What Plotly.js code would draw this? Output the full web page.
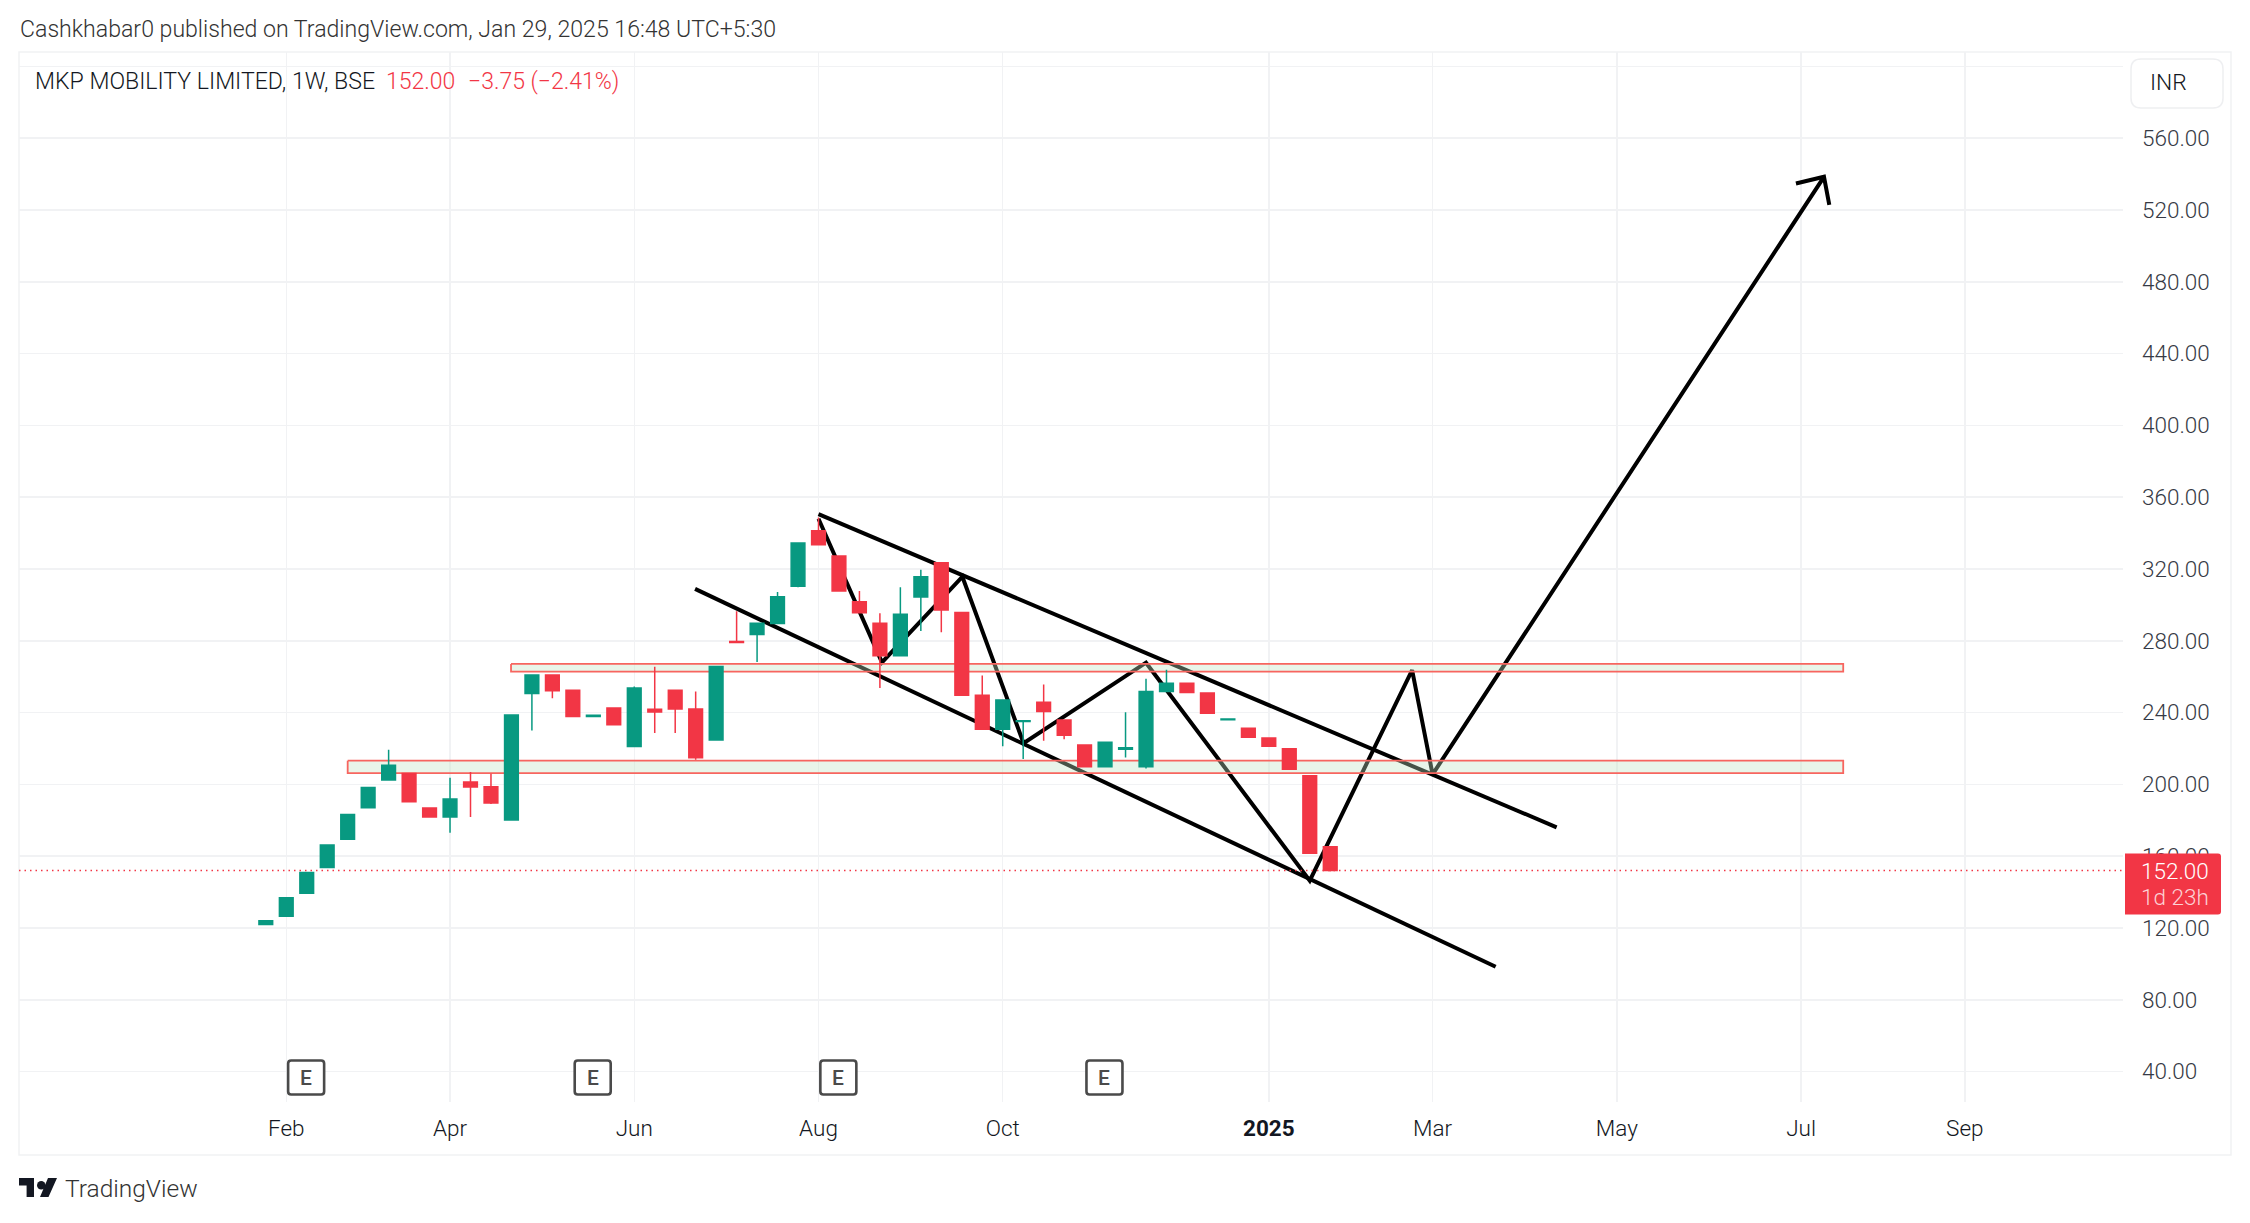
<!DOCTYPE html>
<html><head><meta charset="utf-8">
<script src="https://cdn.plot.ly/plotly-3.0.1.min.js"></script>
<style>html,body{margin:0;padding:0;background:#fff}#c{width:2250px;height:1223px}</style>
</head><body><div id="c"></div>
<script>
// Weekly candles (candle number = position on the time axis)
const opens  = [122,126.5,139.3,153.7,169.4,187,202.4,206.1,186.9,181.9,201.4,198.7,180.2,250.6,260.9,252.4,237.8,242.6,221.1,241.9,252.4,242,224.7,279.6,283.5,289.6,310.4,341.3,327.2,301.7,289.8,271.7,304.4,323.5,295.7,249.6,230.7,235,245.7,235.9,221.9,209.8,219.6,209.8,251.7,256.4,250.9,236,231.3,225.8,219.8,204.8,165.2];
const highs  = [124.1,136.9,150.9,166.3,183.3,198.3,219.3,206.1,186.9,203.7,206.9,205.9,238.7,260.9,260.9,252.4,238.5,242.6,254.6,265.6,252.4,251.7,265.7,296.5,289.8,307.2,334.5,348.7,327.2,307.8,295.4,309.8,319.6,323.5,295.7,260.6,247,235.6,255.7,235.9,221.9,223.5,240.2,258.9,263.9,256.4,250.9,236.5,231.3,225.8,219.8,204.8,165.2];
const lows   = [122,126.5,139.3,153.7,169.4,187,202.4,190.4,181.9,173,181.9,189.1,180.2,230,248,237.8,237.8,233.2,221.1,228.7,228.7,213.7,224.7,279,268.2,289.6,309.8,333.5,307.8,295.6,253.7,271.7,285.4,284.8,249.6,230.7,221.3,214.1,224.3,225.2,209.8,209.8,215,208.9,251.7,251.2,239.6,236,226.3,221.3,208.5,161.7,151.5];
const closes = [124.1,136.9,150.9,166.3,183.3,198.3,210.7,190.4,181.9,191.9,198.5,189.6,238.7,260.9,252.2,237.8,238.5,233.2,253.7,240.4,242,214.8,265.7,279,289.8,304.6,334.5,333.5,307.8,295.6,271.7,294.8,315.7,297.2,249.6,230.7,247,235.5,240.6,227.4,209.8,223.5,220.4,251.7,256.3,251.2,239.6,236.5,226.3,221.3,208.5,161.7,152];
const candleIdx = closes.map((_, i) => i);

// Time axis
const tickIdx    = [1,9,18,27,36,49,57,66,75,83];
const tickLabels = ['Feb','Apr','Jun','Aug','Oct','<b>2025</b>','Mar','May','Jul','Sep'];
const earningsIdx = [2,16,28,41];

// Price axis
const priceTicks  = [40,80,120,160,200,240,280,320,360,400,440,480,520,560,600];
const priceLabels = ['40.00','80.00','120.00','160.00','200.00','240.00','280.00','320.00','360.00','400.00','440.00','480.00','520.00','560.00',''];
const lastClose = 152;

// Hand-drawn lines (candle number, price)
const upperChannelX = [27,63.06],   upperChannelY = [350.6,176.1];
const lowerChannelX = [20.97,60.08], lowerChannelY = [308.9,98.4];
const zigzagX = [27,30.1,34.03,37.02,43,51,56,57,76.12];
const zigzagY = [348,268,315.7,222.9,267.8,146.4,263.7,205.6,538.5];
const arrowHeadX = [74.75,76.12,76.38];
const arrowHeadY = [534.8,538.5,522.9];

// Support / resistance zones
const zoneLeft = [11.98,4.0], zoneRight = [77.06,77.06];
const zoneTop = [267.1,213.2], zoneBottom = [262.8,206.3];

const RED = '#F23645', GREEN = '#089981', GRID = '#f1f2f4';
const FONT = 'Roboto, sans-serif';
const L = 19, R = 2123, T = 52, B = 1102;
const xp = x => (x - L) / (R - L), yp = y => (B - y) / (B - T);

const blackLine = (x, y) => ({type:'scatter', mode:'lines', x, y, zorder:1, showlegend:false, hoverinfo:'skip',
  line:{color:'#000', width:4}});
const zone = i => ({type:'scatter', mode:'lines', zorder:2, showlegend:false, hoverinfo:'skip',
  x:[zoneLeft[i],zoneRight[i],zoneRight[i],zoneLeft[i],zoneLeft[i]],
  y:[zoneTop[i],zoneTop[i],zoneBottom[i],zoneBottom[i],zoneTop[i]],
  fill:'toself', fillcolor:'rgba(194,226,194,0.36)', line:{color:'#f7655f', width:1.8}});

const data = [
  blackLine(upperChannelX, upperChannelY),
  blackLine(lowerChannelX, lowerChannelY),
  blackLine(zigzagX, zigzagY),
  blackLine(arrowHeadX, arrowHeadY),
  zone(0), zone(1),
  {type:'candlestick', x:candleIdx, open:opens, high:highs, low:lows, close:closes, zorder:3,
   whiskerwidth:0, showlegend:false, hoverinfo:'skip',
   increasing:{line:{color:GREEN,width:1.5}, fillcolor:GREEN},
   decreasing:{line:{color:RED,width:1.5}, fillcolor:RED}}
];

const rrect = (x0,y0,x1,y1,r) => {
  const a = xp(x0), b = xp(x1), c = yp(y0), d = yp(y1);
  const rx = r/(R-L), ry = r/(B-T);
  return `M${a+rx},${c}L${b-rx},${c}Q${b},${c} ${b},${c-ry}L${b},${d+ry}Q${b},${d} ${b-rx},${d}L${a+rx},${d}Q${a},${d} ${a},${d+ry}L${a},${c-ry}Q${a},${c} ${a+rx},${c}Z`;
};

const shapes = [
  // outer frame
  {type:'rect', xref:'paper', yref:'paper', x0:0, x1:xp(2231), y0:yp(1155), y1:1, layer:'below', line:{color:GRID,width:1.5}},
  // last price line
  {type:'line', xref:'paper', yref:'y', x0:0, x1:1, y0:lastClose, y1:lastClose, layer:'above', line:{color:RED,width:1.5,dash:'1.5px,4px'}},
  // price tag
  {type:'path', xref:'paper', yref:'paper', layer:'above', fillcolor:RED, line:{width:0},
   path:`M${xp(2125)},${yp(853.5)}L${xp(2218)},${yp(853.5)}Q${xp(2221)},${yp(853.5)} ${xp(2221)},${yp(856.5)}L${xp(2221)},${yp(911.5)}Q${xp(2221)},${yp(914.5)} ${xp(2218)},${yp(914.5)}L${xp(2125)},${yp(914.5)}Z`},
  // currency box
  {type:'path', xref:'paper', yref:'paper', layer:'above', fillcolor:'#fff', line:{color:'#eeeff1',width:1.5},
   path:rrect(2131,59,2223,108,10)},
];

// earnings markers
earningsIdx.forEach(i => shapes.push({type:'path', xref:'x', yref:'paper', xsizemode:'pixel', ysizemode:'pixel',
  xanchor:i-0.03, yanchor:yp(1077.5), layer:'above', fillcolor:'#fff', line:{color:'#4a4a4a',width:2.6},
  path:'M-15,-17L15,-17Q18,-17 18,-14L18,14Q18,17 15,17L-15,17Q-18,17 -18,14L-18,-14Q-18,-17 -15,-17Z'}));

// TradingView logo
shapes.push({type:'path', xref:'paper', yref:'paper', xsizemode:'pixel', ysizemode:'pixel',
  xanchor:xp(19), yanchor:yp(1178), layer:'above', fillcolor:'#131722', line:{width:0},
  path:'M0,0L15,0L15,-19L7.6,-19L7.6,-7.4L0,-7.4Z M29.5,-19L21,-19L29,0L38,0Z'});
shapes.push({type:'circle', xref:'paper', yref:'paper', xsizemode:'pixel', ysizemode:'pixel',
  xanchor:xp(19), yanchor:yp(1178), layer:'above', fillcolor:'#131722', line:{width:0},
  x0:18, x1:26.5, y0:-3, y1:-11.5});

const note = (x, y, text, color, size, anchor, weight) => ({xref:'paper', yref:'paper', x:xp(x), y:yp(y), text,
  showarrow:false, xanchor:anchor||'left', yanchor:'middle', borderpad:0, align:anchor||'left',
  font:{family:FONT, size:size||22.8, color, weight:weight||300}});

const annotations = [
  note(19, 29, 'Cashkhabar0 published on TradingView.com, Jan 29, 2025 16:48 UTC+5:30', '#333333', 23.1),
  note(34, 81, 'MKP MOBILITY LIMITED, 1W, BSE', '#131722', 23.1),
  note(385, 81, '152.00', RED, 23),
  note(467, 81, '\u22123.75 (\u22122.41%)', RED, 23),
  note(2149, 83, 'INR', '#131722', 22.8),
  note(2210, 871, '152.00', '#ffffff', 22.5, 'right'),
  note(2210, 897, '1d 23h', 'rgba(255,255,255,0.78)', 22.5, 'right'),
  note(64, 1188, 'TradingView', '#333333', 24.5),
];
earningsIdx.forEach(i => annotations.push({xref:'x', yref:'paper', x:i-0.03, y:yp(1077.5), text:'E', showarrow:false,
  xanchor:'center', yanchor:'middle', borderpad:0, font:{family:FONT, size:21, color:'#4a4a4a', weight:500}}));

const layout = {
  width:2250, height:1223, autosize:false,
  paper_bgcolor:'#fff', plot_bgcolor:'#fff',
  margin:{l:L, r:2250-R, t:T, b:1223-B, pad:0},
  showlegend:false, font:{family:FONT},
  boxgap:0.33, boxgroupgap:0,
  xaxis:{type:'linear', range:[(L-265.8)/20.47,(R-265.8)/20.47], tickmode:'array', tickvals:tickIdx, ticktext:tickLabels,
    showgrid:true, gridcolor:GRID, gridwidth:1.5, zeroline:false, showline:false, ticks:'', ticklabelstandoff:10,
    tickfont:{family:FONT,size:22.5,color:'#131722',weight:300}, rangeslider:{visible:false}, fixedrange:true},
  yaxis:{type:'linear', side:'right', range:[120-(B-928)/1.795, 120+(928-T)/1.795], tickmode:'array', tickvals:priceTicks, ticktext:priceLabels,
    showgrid:true, gridcolor:GRID, gridwidth:1.5, zeroline:false, showline:false, ticks:'', ticklabelstandoff:18,
    tickfont:{family:FONT,size:22.5,color:'#363a45',weight:300}, fixedrange:true},
  shapes, annotations,
  hovermode:false
};
Plotly.newPlot('c', data, layout, {displayModeBar:false, staticPlot:true});
</script></body></html>
